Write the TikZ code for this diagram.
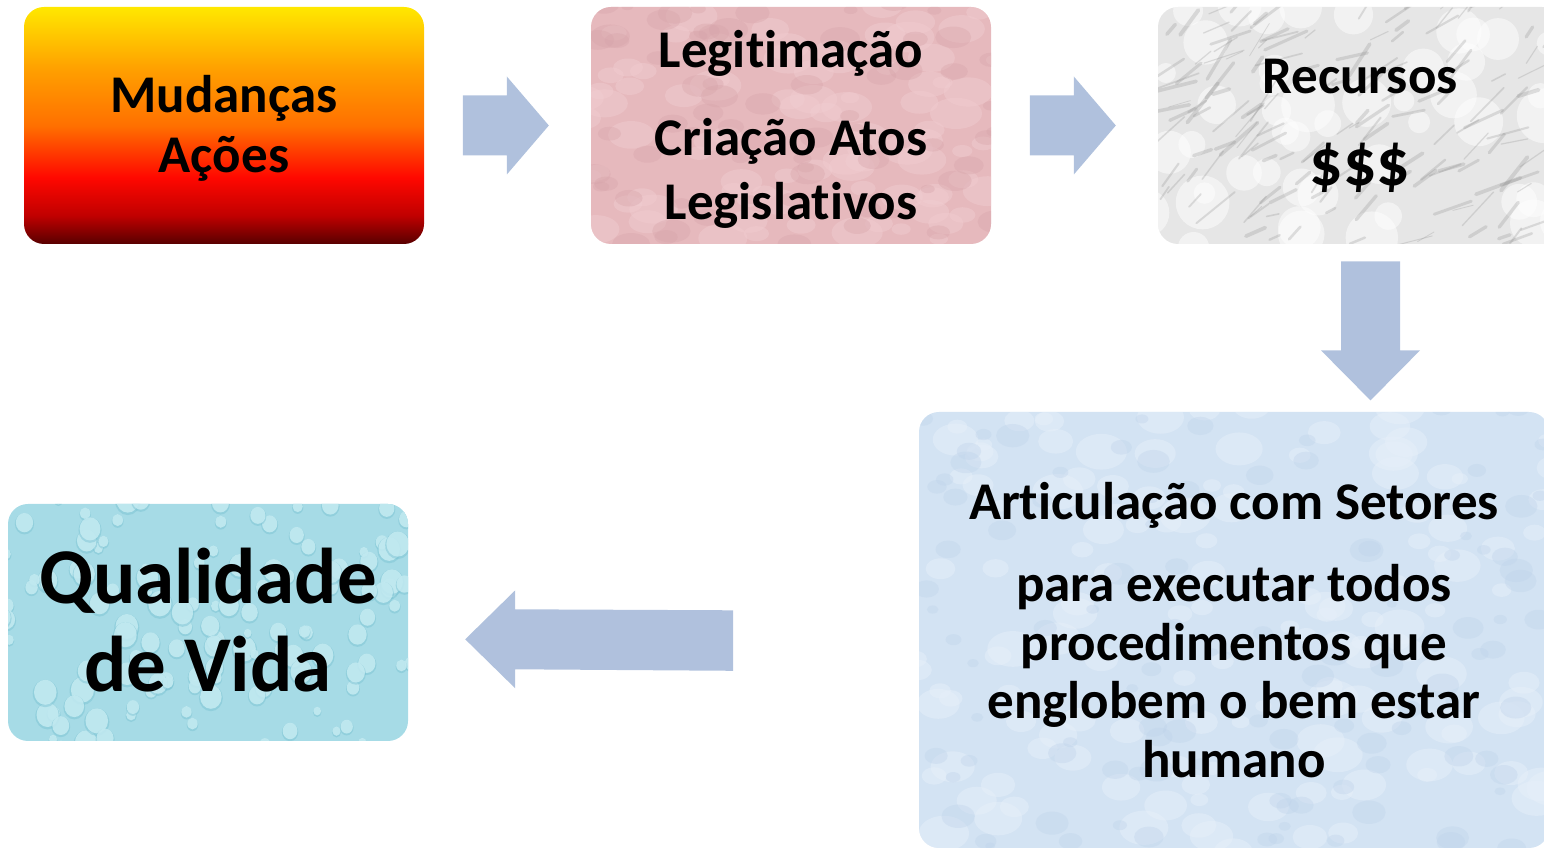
\documentclass[tikz,border=0pt]{standalone}
\usepackage{fontspec}
\setmainfont{Carlito}[Ligatures=NoCommon]
\usetikzlibrary{calc}
\definecolor{arrowc}{HTML}{B0C1DD}
\definecolor{pinkc}{HTML}{E6B9BD}
\definecolor{pinkl}{HTML}{F1CDD1}
\definecolor{pinkd}{HTML}{D6A3A9}
\definecolor{marblec}{HTML}{E6E6E6}
\definecolor{marbled}{HTML}{8A8A8A}
\definecolor{bluec}{HTML}{D3E3F3}
\definecolor{bluel}{HTML}{E6EFF9}
\definecolor{blued}{HTML}{BDD2EA}
\definecolor{aquac}{HTML}{A6DBE6}
\definecolor{aqual}{HTML}{C8EDF3}
\definecolor{aquad}{HTML}{79C1D2}
\definecolor{fireY}{HTML}{FFE800}
\definecolor{fireO}{HTML}{FFA000}
\definecolor{fireO2}{HTML}{FF7000}
\definecolor{fireR}{HTML}{FF0800}
\definecolor{fireD}{HTML}{C00000}
\definecolor{fireK}{HTML}{580000}
\pgfdeclareverticalshading{fire}{100bp}{color(0bp)=(fireK); color(25bp)=(fireK); color(31bp)=(fireD); color(39bp)=(fireR); color(50bp)=(fireO2); color(62bp)=(fireO); color(75bp)=(fireY); color(100bp)=(fireY)}
\tikzset{
  box/.style={rectangle, rounded corners=10pt, inner sep=0pt},
  txt/.style={inner sep=0pt, align=center, font=\bfseries\fontsize{26.5}{32}\selectfont, text=black},
  blockarrow/.style={fill=arrowc, draw=none},
}
\begin{document}
\begin{tikzpicture}[x=0.5pt,y=-0.5pt]
\useasboundingbox (0,0) rectangle (1544,849);
\clip (0,0) rectangle (1544,849);
\pgfmathsetseed{11}
% Box 1: Mudancas / Acoes
\node[box, shading=fire, minimum width=200pt, minimum height=118.5pt] (mud) at (224,125.5) {};
\node[txt, font=\bfseries\fontsize{26.5}{30}\selectfont] (mudT) at ($(mud.center)+(0,3)$) {Mudanças\\Ações};
% Box 2: Legitimacao
\node[box, fill=pinkc, minimum width=200pt, minimum height=118.5pt,
  path picture={
    \foreach \i in {1,...,90}{
      \pgfmathsetmacro\rx{rand*210}\pgfmathsetmacro\ry{rand*125}
      \pgfmathsetmacro\rr{8+abs(rand)*18}
      \fill[pinkl,opacity=0.45] ($(path picture bounding box.center)+(\rx,\ry)$) ellipse ({\rr*0.5pt} and {\rr*0.3pt});
    }
    \foreach \i in {1,...,70}{
      \pgfmathsetmacro\rx{rand*210}\pgfmathsetmacro\ry{rand*125}
      \pgfmathsetmacro\rr{6+abs(rand)*14}
      \fill[pinkd,opacity=0.35] ($(path picture bounding box.center)+(\rx,\ry)$) ellipse ({\rr*0.5pt} and {\rr*0.3pt});
    }
  }] (leg) at (791,125.5) {};
\node[txt] (legT) at ($(leg.center)+(0,4)$) {Legitimação\\[12pt]Criação Atos\\Legislativos};
% Box 3: Recursos (marble)
\node[box, fill=marblec, minimum width=202pt, minimum height=118.5pt,
  path picture={
    \foreach \i in {1,...,50}{
      \pgfmathsetmacro\rx{rand*215}\pgfmathsetmacro\ry{rand*125}
      \pgfmathsetmacro\rr{10+abs(rand)*18}
      \fill[white,opacity=0.5] ($(path picture bounding box.center)+(\rx,\ry)$) circle ({\rr*0.5pt});
    }
    \foreach \i in {1,...,170}{
      \pgfmathsetmacro\rx{rand*215}\pgfmathsetmacro\ry{rand*125}
      \pgfmathsetmacro\rl{10+abs(rand)*40}
      \pgfmathsetmacro\ra{-35+rand*25}
      \pgfmathsetmacro\rw{0.4+abs(rand)*1.6}
      \draw[marbled,opacity=0.25,line width=\rw pt,line cap=round] ($(path picture bounding box.center)+(\rx,\ry)$) -- ++(\ra:\rl);
    }
  }] (rec) at (1360,125.5) {};
\node[txt] (recT) at (rec.center) {Recursos\\[14pt]{\fontsize{33}{36}\selectfont \$\$\$}};
% Box 4: Articulacao
\node[box, fill=bluec, minimum width=315pt, minimum height=218pt,
  path picture={
    \foreach \i in {1,...,140}{
      \pgfmathsetmacro\rx{rand*320}\pgfmathsetmacro\ry{rand*225}
      \pgfmathsetmacro\rr{8+abs(rand)*18}
      \fill[bluel,opacity=0.5] ($(path picture bounding box.center)+(\rx,\ry)$) ellipse ({\rr*0.5pt} and {\rr*0.35pt});
    }
    \foreach \i in {1,...,110}{
      \pgfmathsetmacro\rx{rand*320}\pgfmathsetmacro\ry{rand*225}
      \pgfmathsetmacro\rr{5+abs(rand)*12}
      \fill[blued,opacity=0.35] ($(path picture bounding box.center)+(\rx,\ry)$) ellipse ({\rr*0.5pt} and {\rr*0.35pt});
    }
  }] (art) at (1234,630) {};
\node[txt, font=\bfseries\fontsize{26.5}{29.3}\selectfont] (artT) at (art.center)
  {Articulação com Setores\\[11.7pt]para executar todos\\procedimentos que\\englobem o bem estar\\humano};
% Box 5: Qualidade de Vida
\node[box, fill=aquac, minimum width=200pt, minimum height=118.5pt,
  path picture={
    \foreach \i in {1,...,130}{
      \pgfmathsetmacro\rx{rand*210}\pgfmathsetmacro\ry{rand*125}
      \pgfmathsetmacro\rr{4+abs(rand)*9}
      \fill[aquad,opacity=0.45] ($(path picture bounding box.center)+(\rx,\ry+1.2)$) ellipse ({\rr*0.5pt} and {\rr*0.55pt});
      \fill[aqual,opacity=0.8] ($(path picture bounding box.center)+(\rx,\ry)$) ellipse ({\rr*0.45pt} and {\rr*0.5pt});
    }
  }] (qv) at (208,622.5) {};
\node[txt, font=\bfseries\fontsize{39.5}{44}\selectfont] (qvT) at ($(qv.center)+(0,-2)$) {Qualidade\\de Vida};
% Block arrows
\coordinate (a1) at ($(mud.east)!0.49!(leg.west)$);
\coordinate (a2) at ($(leg.east)!0.49!(rec.west)$);
\coordinate (a3) at ($(rec.south)+(10.5,86.5)$);
\coordinate (a4) at ($(qv.east)!0.374!(art.west)+(0,14)$);
\fill[blockarrow] ($(a1)+(-43,-30)$) -- ($(a1)+(1,-30)$) -- ($(a1)+(1,-49)$) -- ($(a1)+(43,0)$) -- ($(a1)+(1,49)$) -- ($(a1)+(1,30)$) -- ($(a1)+(-43,30)$) -- cycle;
\fill[blockarrow] ($(a2)+(-43,-30)$) -- ($(a2)+(1,-30)$) -- ($(a2)+(1,-49)$) -- ($(a2)+(43,0)$) -- ($(a2)+(1,49)$) -- ($(a2)+(1,30)$) -- ($(a2)+(-43,30)$) -- cycle;
\fill[blockarrow] ($(a3)+(-29.5,-69.5)$) -- ($(a3)+(29.5,-69.5)$) -- ($(a3)+(29.5,19.5)$) -- ($(a3)+(49.5,19.5)$) -- ($(a3)+(0,69.5)$) -- ($(a3)+(-49.5,19.5)$) -- ($(a3)+(-29.5,19.5)$) -- cycle;
\fill[blockarrow] ($(a4)+(134,-29)$) -- ($(a4)+(-84,-30)$) -- ($(a4)+(-84,-49)$) -- ($(a4)+(-134,0)$) -- ($(a4)+(-84,49)$) -- ($(a4)+(-84,30)$) -- ($(a4)+(134,31.5)$) -- cycle;
\end{tikzpicture}
\end{document}
